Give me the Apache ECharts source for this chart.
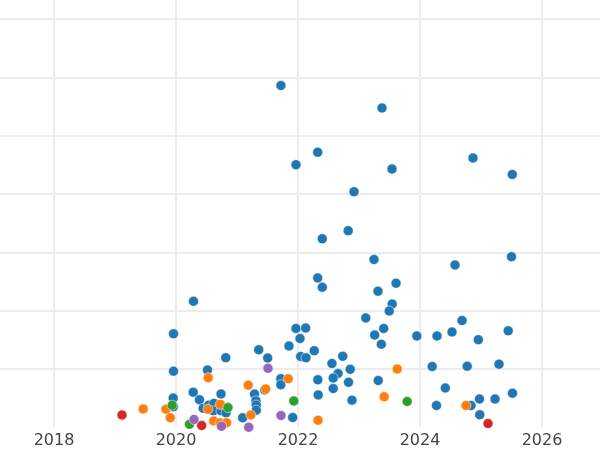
<!DOCTYPE html>
<html>
<head>
<meta charset="utf-8">
<script src="https://cdn.jsdelivr.net/npm/echarts@6/dist/echarts.min.js"></script>
<style>html,body{margin:0;padding:0;background:#fff}#c{width:600px;height:450px}</style>
</head>
<body>
<div id="c"></div>
<script>
var xTicks = [2016, 2018, 2020, 2022, 2024, 2026, 2028];

var seriesNames = ['A', 'B', 'C', 'D', 'E'];
var seriesColors = ['#1f77b4', '#ff7f0e', '#2ca02c', '#d62728', '#9467bd'];

var blueData = [
  [2021.72,5.860],[2023.377,5.474],[2021.967,4.502],[2022.323,4.715],[2023.541,4.428],
  [2022.918,4.039],[2024.869,4.617],[2025.513,4.334],[2022.398,3.232],[2022.823,3.370],
  [2023.246,2.877],[2025.5,2.925],[2024.574,2.782],[2022.323,2.560],[2022.398,2.400],
  [2023.607,2.469],[2023.311,2.333],[2023.544,2.114],[2023.495,1.994],[2023.111,1.874],
  [2023.405,1.694],[2023.257,1.582],[2023.366,1.423],[2023.948,1.565],[2024.279,1.565],
  [2024.525,1.634],[2024.689,1.831],[2024.956,1.502],[2025.446,1.654],[2020.287,2.160],
  [2019.959,1.603],[2019.959,0.962],[2020.516,0.982],[2020.816,1.193],[2021.356,1.330],
  [2021.503,1.188],[2021.852,1.394],[2021.967,1.694],[2022.126,1.702],[2022.033,1.522],
  [2022.044,1.214],[2022.131,1.191],[2022.266,1.313],[2022.325,0.814],[2022.331,0.554],
  [2022.557,1.094],[2022.733,1.217],[2022.856,0.994],[2022.656,0.922],[2022.577,0.845],
  [2022.828,0.771],[2022.577,0.665],[2022.885,0.465],[2023.315,0.802],[2024.2,1.042],
  [2024.774,1.046],[2025.295,1.082],[2024.415,0.674],[2024.270,0.374],[2024.975,0.485],
  [2025.230,0.485],[2025.516,0.585],[2024.836,0.374],[2024.980,0.214],[2020.282,0.602],
  [2020.385,0.471],[2020.738,0.571],[2019.954,0.502],[2019.956,0.351],[2020.446,0.326],
  [2020.536,0.379],[2020.623,0.410],[2020.611,0.283],[2020.738,0.283],[2020.820,0.249],
  [2021.287,0.571],[2021.311,0.454],[2021.316,0.382],[2021.316,0.293],[2021.093,0.163],
  [2021.454,0.639],[2021.718,0.833],[2021.718,0.729],[2021.913,0.168]
];
var orangeData = [
  [2019.462,0.314],[2019.836,0.310],[2019.907,0.165],[2020.528,0.850],[2020.525,0.310],
  [2020.725,0.393],[2020.618,0.108],[2020.721,0.077],[2020.828,0.077],[2021.184,0.722],
  [2021.226,0.211],[2021.470,0.657],[2021.839,0.831],[2022.328,0.122],[2023.626,0.999],
  [2023.413,0.523],[2024.754,0.374]
];
var greenData = [
  [2019.938,0.379],[2020.221,0.051],[2020.852,0.339],[2021.931,0.451],[2023.790,0.442]
];
var redData = [
  [2019.115,0.211],[2020.421,0.031],[2025.115,0.065]
];
var purpleData = [
  [2020.295,0.134],[2020.746,0.017],[2021.192,0.0],[2021.508,1.011],[2021.721,0.202]
];

var allData = [blueData, orangeData, greenData, redData, purpleData];

var chart = echarts.init(document.getElementById('c'), null, {renderer: 'canvas'});
var gridColor = '#ececec';
chart.setOption({
  animation: false,
  backgroundColor: '#ffffff',
  grid: {left: -68, right: -64, top: 0, bottom: 22.7, containLabel: false, outerBoundsMode: 'none'},
  xAxis: {
    type: 'value', min: xTicks[0], max: xTicks[xTicks.length - 1], interval: 2,
    axisLine: {show: false}, axisTick: {show: false},
    axisLabel: {fontSize: 16, color: '#444', fontFamily: 'DejaVu Sans', margin: 6,
      formatter: function (v) { return String(v); }},
    splitLine: {show: true, showMinLine: false, showMaxLine: false, lineStyle: {color: gridColor, width: 2}}
  },
  yAxis: {
    type: 'value', min: 0, max: 7.326, interval: 1,
    axisLine: {show: false}, axisTick: {show: false}, axisLabel: {show: false},
    splitLine: {show: true, showMinLine: false, showMaxLine: false, lineStyle: {color: gridColor, width: 2}}
  },
  series: allData.map(function (d, i) {
    return {
      name: seriesNames[i], type: 'scatter', data: d, symbolSize: 10, clip: true,
      itemStyle: {color: seriesColors[i], opacity: 1, borderColor: '#ffffff', borderWidth: 0.5}
    };
  })
});
</script>
</body>
</html>
